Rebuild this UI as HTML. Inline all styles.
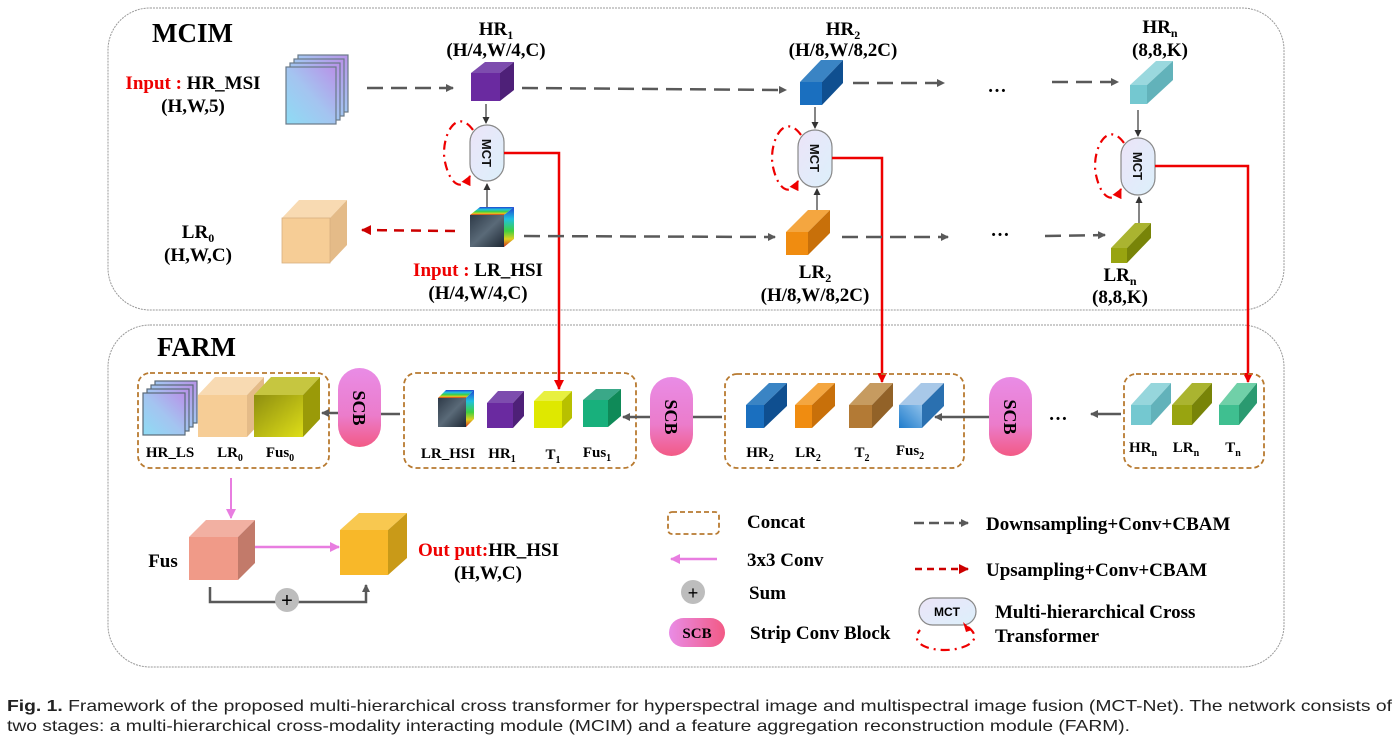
<!DOCTYPE html>
<html><head><meta charset="utf-8"><style>html,body{margin:0;padding:0;background:#fff}svg{display:block}</style></head>
<body>
<svg width="1398" height="753" viewBox="0 0 1398 753" xmlns="http://www.w3.org/2000/svg" font-family="Liberation Serif, serif" font-weight="bold">
<defs>
<marker id="ag" markerWidth="8" markerHeight="8" refX="7" refY="4" orient="auto" markerUnits="userSpaceOnUse"><path d="M0,0 L8,4 L0,8 z" fill="#595959"/></marker>
<marker id="ar" markerWidth="10" markerHeight="10" refX="9" refY="5" orient="auto" markerUnits="userSpaceOnUse"><path d="M0,0 L10,5 L0,10 z" fill="#e00"/></marker>
<marker id="ard" markerWidth="10" markerHeight="10" refX="9" refY="5" orient="auto" markerUnits="userSpaceOnUse"><path d="M0,0 L10,5 L0,10 z" fill="#c00"/></marker>
<marker id="ap" markerWidth="10" markerHeight="10" refX="9" refY="5" orient="auto" markerUnits="userSpaceOnUse"><path d="M0,0 L10,5 L0,10 z" fill="#e87de0"/></marker>
<marker id="ak" markerWidth="7" markerHeight="7" refX="6" refY="3.5" orient="auto" markerUnits="userSpaceOnUse"><path d="M0,0 L7,3.5 L0,7 z" fill="#333"/></marker>
<linearGradient id="scb" x1="0" y1="0" x2="0" y2="1"><stop offset="0" stop-color="#e98ce6"/><stop offset="0.6" stop-color="#eb7ccb"/><stop offset="1" stop-color="#f25a85"/></linearGradient>
<linearGradient id="scbh" x1="0" y1="0" x2="1" y2="0"><stop offset="0" stop-color="#e98ce6"/><stop offset="1" stop-color="#f25a85"/></linearGradient>
<linearGradient id="mct" x1="0" y1="0" x2="1" y2="1"><stop offset="0" stop-color="#ece4f8"/><stop offset="1" stop-color="#dcf0fb"/></linearGradient>
<linearGradient id="msi" x1="0" y1="1" x2="1" y2="0"><stop offset="0" stop-color="#8edcf4"/><stop offset="0.5" stop-color="#a4c4f0"/><stop offset="1" stop-color="#b892e8"/></linearGradient>
<linearGradient id="fus0" x1="0" y1="0" x2="1" y2="1"><stop offset="0" stop-color="#8e8e10"/><stop offset="1" stop-color="#dede18"/></linearGradient>
<linearGradient id="fus2" x1="0" y1="1" x2="1" y2="0"><stop offset="0" stop-color="#1f7ccc"/><stop offset="1" stop-color="#8ec0ea"/></linearGradient>
<linearGradient id="img" x1="0" y1="0" x2="1" y2="1"><stop offset="0" stop-color="#2e3a48"/><stop offset="0.5" stop-color="#5a6a78"/><stop offset="1" stop-color="#1e2834"/></linearGradient>
<linearGradient id="imgs" x1="0" y1="0" x2="0" y2="1"><stop offset="0" stop-color="#2040d0"/><stop offset="0.3" stop-color="#20c0e0"/><stop offset="0.6" stop-color="#40d040"/><stop offset="0.8" stop-color="#e0d020"/><stop offset="1" stop-color="#d03020"/></linearGradient>
</defs>

<rect x="108" y="8" width="1176" height="302" rx="42" fill="none" stroke="#999" stroke-width="1" stroke-dasharray="2 1"/>
<rect x="108" y="325" width="1176" height="342" rx="42" fill="none" stroke="#999" stroke-width="1" stroke-dasharray="2 1"/>
<text x="152" y="42" font-size="27">MCIM</text>
<text x="157" y="356" font-size="27">FARM</text>

<text x="193" y="89" font-size="19" text-anchor="middle"><tspan fill="#e00">Input : </tspan>HR_MSI</text>
<text x="193" y="112" font-size="19" text-anchor="middle">(H,W,5)</text>
<g stroke="#6a7a88" stroke-width="1.2" fill="url(#msi)">
<rect x="298" y="55" width="50" height="57"/><rect x="294" y="59" width="50" height="57"/><rect x="290" y="63" width="50" height="57"/><rect x="286" y="67" width="50" height="57"/>
</g>
<line x1="367" y1="88" x2="453" y2="88" stroke="#595959" stroke-width="2.5" stroke-dasharray="16 8" marker-end="url(#ag)"/>
<text x="496" y="35" font-size="19" text-anchor="middle">HR<tspan font-size="12" dy="4">1</tspan></text>
<text x="496" y="56" font-size="19" text-anchor="middle">(H/4,W/4,C)</text>
<polygon points="471,73 485,62 514,62 500,73" fill="#7d4cae"/><polygon points="500,73 514,62 514,90 500,101" fill="#4e2078"/><rect x="471" y="73" width="29" height="28" fill="#6a2aa0"/>
<line x1="522" y1="88" x2="786" y2="90" stroke="#595959" stroke-width="2.5" stroke-dasharray="16 8" marker-end="url(#ag)"/>
<text x="843" y="35" font-size="19" text-anchor="middle">HR<tspan font-size="12" dy="4">2</tspan></text>
<text x="843" y="56" font-size="19" text-anchor="middle">(H/8,W/8,2C)</text>
<polygon points="800,82 821,60 843,60 822,82" fill="#3a84c4"/><polygon points="822,82 843,60 843,83 822,105" fill="#0f4f90"/><rect x="800" y="82" width="22" height="23" fill="#1a6fbf"/>
<line x1="853" y1="83" x2="944" y2="83" stroke="#595959" stroke-width="2.5" stroke-dasharray="16 8" marker-end="url(#ag)"/>
<text x="997" y="92" font-size="19" text-anchor="middle">…</text>
<line x1="1052" y1="82" x2="1118" y2="82" stroke="#595959" stroke-width="2.5" stroke-dasharray="16 8" marker-end="url(#ag)"/>
<text x="1160" y="33" font-size="19" text-anchor="middle">HR<tspan font-size="12" dy="4">n</tspan></text>
<text x="1160" y="56" font-size="19" text-anchor="middle">(8,8,K)</text>
<polygon points="1130,85 1156,61 1173,61 1147,85" fill="#9ad8de"/><polygon points="1147,85 1173,61 1173,80 1147,104" fill="#62b2ba"/><rect x="1130" y="85" width="17" height="19" fill="#74c8d0"/>

<g stroke="#333" stroke-width="1.2">
<line x1="486" y1="104" x2="486" y2="123" marker-end="url(#ak)"/><line x1="487" y1="207" x2="487" y2="184" marker-end="url(#ak)"/>
<line x1="815" y1="107" x2="815" y2="128" marker-end="url(#ak)"/><line x1="817" y1="210" x2="817" y2="189" marker-end="url(#ak)"/>
<line x1="1138" y1="110" x2="1138" y2="136" marker-end="url(#ak)"/><line x1="1139" y1="225" x2="1139" y2="197" marker-end="url(#ak)"/>
</g>
<g stroke="#888" stroke-width="1.2" fill="url(#mct)">
<rect x="470" y="125" width="34" height="56" rx="17"/>
<rect x="798" y="130" width="34" height="57" rx="17"/>
<rect x="1121" y="138" width="34" height="57" rx="17"/>
</g>
<g font-family="Liberation Sans, sans-serif" font-size="13" fill="#111" text-anchor="middle">
<text transform="translate(482,153) rotate(90)">MCT</text>
<text transform="translate(810,158) rotate(90)">MCT</text>
<text transform="translate(1133,166) rotate(90)">MCT</text>
</g>
<g fill="none" stroke="#e00" stroke-width="2.2" stroke-dasharray="9 5 2 5">
<path d="M473,130 C455,105 440,140 445,162 C450,185 462,192 470,176" marker-end="url(#ar)"/>
<path d="M801,135 C783,110 768,145 773,167 C778,190 790,197 798,181" marker-end="url(#ar)"/>
<path d="M1124,143 C1106,118 1091,153 1096,175 C1101,198 1113,205 1121,189" marker-end="url(#ar)"/>
</g>
<g fill="none" stroke="#e00" stroke-width="2.5">
<path d="M504,153 H559 V389" marker-end="url(#ar)"/>
<path d="M832,158 H882 V382" marker-end="url(#ar)"/>
<path d="M1155,166 H1248 V382" marker-end="url(#ar)"/>
</g>

<text x="198" y="238" font-size="19" text-anchor="middle">LR<tspan font-size="12" dy="4">0</tspan></text>
<text x="198" y="261" font-size="19" text-anchor="middle">(H,W,C)</text>
<polygon points="282,218 299,200 347,200 330,218" fill="#f8dab2"/><polygon points="330,218 347,200 347,245 330,263" fill="#e4bb88"/><rect x="282" y="218" width="48" height="45" fill="#f6cd96" stroke="#d8b080" stroke-width="0.8"/>
<line x1="455" y1="231" x2="362" y2="230" stroke="#c00" stroke-width="2.5" stroke-dasharray="10 7" marker-end="url(#ard)"/>
<polygon points="470,215 480,207 514,207 504,215" fill="url(#imgs)"/><polygon points="504,215 514,207 514,239 504,247" fill="url(#imgs)"/><rect x="470" y="215" width="34" height="32" fill="url(#img)"/>
<line x1="524" y1="236" x2="775" y2="237" stroke="#595959" stroke-width="2.5" stroke-dasharray="16 8" marker-end="url(#ag)"/>
<text x="478" y="276" font-size="19" text-anchor="middle"><tspan fill="#e00">Input : </tspan>LR_HSI</text>
<text x="478" y="299" font-size="19" text-anchor="middle">(H/4,W/4,C)</text>
<polygon points="786,232 808,210 830,210 808,232" fill="#f4a640"/><polygon points="808,232 830,210 830,233 808,255" fill="#c8700a"/><rect x="786" y="232" width="22" height="23" fill="#f08c10"/>
<text x="815" y="278" font-size="19" text-anchor="middle">LR<tspan font-size="12" dy="4">2</tspan></text>
<text x="815" y="301" font-size="19" text-anchor="middle">(H/8,W/8,2C)</text>
<line x1="842" y1="237" x2="948" y2="237" stroke="#595959" stroke-width="2.5" stroke-dasharray="16 8" marker-end="url(#ag)"/>
<text x="1000" y="236" font-size="19" text-anchor="middle">…</text>
<line x1="1045" y1="236" x2="1105" y2="235" stroke="#595959" stroke-width="2.5" stroke-dasharray="16 8" marker-end="url(#ag)"/>
<polygon points="1111,248 1135,223 1151,223 1127,248" fill="#aab430"/><polygon points="1127,248 1151,223 1151,238 1127,263" fill="#788408"/><rect x="1111" y="248" width="16" height="15" fill="#98a410"/>
<text x="1120" y="281" font-size="19" text-anchor="middle">LR<tspan font-size="12" dy="4">n</tspan></text>
<text x="1120" y="303" font-size="19" text-anchor="middle">(8,8,K)</text>

<g fill="none" stroke="#b87a30" stroke-width="1.8" stroke-dasharray="5 3">
<rect x="138" y="373" width="191" height="95" rx="12"/>
<rect x="404" y="373" width="232" height="95" rx="12"/>
<rect x="725" y="374" width="239" height="94" rx="12"/>
<rect x="1124" y="374" width="140" height="94" rx="12"/>
</g>
<g stroke="#5a6a78" stroke-width="1.2" fill="url(#msi)">
<rect x="155" y="381" width="42" height="42"/><rect x="151" y="385" width="42" height="42"/><rect x="147" y="389" width="42" height="42"/><rect x="143" y="393" width="42" height="42"/>
</g>
<polygon points="198,395 215,377 264,377 247,395" fill="#f8dab2"/><polygon points="247,395 264,377 264,419 247,437" fill="#e4bb88"/><rect x="198" y="395" width="49" height="42" fill="#f6cd96"/>
<polygon points="254,395 271,377 320,377 303,395" fill="#c6c640"/><polygon points="303,395 320,377 320,419 303,437" fill="#9a9a08"/><rect x="254" y="395" width="49" height="42" fill="url(#fus0)"/>
<g font-size="15" text-anchor="middle">
<text x="170" y="457">HR_LS</text>
<text x="230" y="457">LR<tspan font-size="10" dy="4">0</tspan></text>
<text x="280" y="457">Fus<tspan font-size="10" dy="4">0</tspan></text>
</g>
<polygon points="438,398 446,390 474,390 466,398" fill="url(#imgs)"/><polygon points="466,398 474,390 474,419 466,427" fill="url(#imgs)"/><rect x="438" y="398" width="28" height="29" fill="url(#img)"/>
<polygon points="487,403 498,391 524,391 513,403" fill="#7d4cae"/><polygon points="513,403 524,391 524,416 513,428" fill="#4e2078"/><rect x="487" y="403" width="26" height="25" fill="#6a2aa0"/>
<polygon points="534,401 544,391 572,391 562,401" fill="#e8f040"/><polygon points="562,401 572,391 572,418 562,428" fill="#b8c000"/><rect x="534" y="401" width="28" height="27" fill="#dfe800"/>
<polygon points="583,400 596,389 621,389 608,400" fill="#3aa888"/><polygon points="608,400 621,389 621,416 608,427" fill="#0f8a58"/><rect x="583" y="400" width="25" height="27" fill="#18b07c"/>
<g font-size="15" text-anchor="middle">
<text x="448" y="458">LR_HSI</text>
<text x="502" y="458">HR<tspan font-size="10" dy="4">1</tspan></text>
<text x="553" y="459">T<tspan font-size="10" dy="4">1</tspan></text>
<text x="597" y="457">Fus<tspan font-size="10" dy="4">1</tspan></text>
</g>
<polygon points="746,405 769,383 787,383 764,405" fill="#3a84c4"/><polygon points="764,405 787,383 787,406 764,428" fill="#0f4f90"/><rect x="746" y="405" width="18" height="23" fill="#1a6fbf"/>
<polygon points="795,405 818,383 835,383 812,405" fill="#f4a640"/><polygon points="812,405 835,383 835,406 812,428" fill="#c8700a"/><rect x="795" y="405" width="17" height="23" fill="#f08c10"/>
<polygon points="849,405 870,383 893,383 872,405" fill="#c69b60"/><polygon points="872,405 893,383 893,406 872,428" fill="#926228"/><rect x="849" y="405" width="23" height="23" fill="#b37a35"/>
<polygon points="899,405 921,383 944,383 922,405" fill="#a8c8e8"/><polygon points="922,405 944,383 944,406 922,428" fill="#2a70b0"/><rect x="899" y="405" width="23" height="23" fill="url(#fus2)"/>
<g font-size="15" text-anchor="middle">
<text x="760" y="457">HR<tspan font-size="10" dy="4">2</tspan></text>
<text x="808" y="457">LR<tspan font-size="10" dy="4">2</tspan></text>
<text x="862" y="457">T<tspan font-size="10" dy="4">2</tspan></text>
<text x="910" y="455">Fus<tspan font-size="10" dy="4">2</tspan></text>
</g>
<polygon points="1131,405 1151,383 1171,383 1151,405" fill="#96d6dc"/><polygon points="1151,405 1171,383 1171,403 1151,425" fill="#62b2ba"/><rect x="1131" y="405" width="20" height="20" fill="#74c8d0"/>
<polygon points="1172,405 1192,383 1212,383 1192,405" fill="#aab430"/><polygon points="1192,405 1212,383 1212,403 1192,425" fill="#788408"/><rect x="1172" y="405" width="20" height="20" fill="#98a410"/>
<polygon points="1219,405 1237,383 1257,383 1239,405" fill="#70d0a8"/><polygon points="1239,405 1257,383 1257,403 1239,425" fill="#2a9a70"/><rect x="1219" y="405" width="20" height="20" fill="#3fbf90"/>
<g font-size="15" text-anchor="middle">
<text x="1143" y="452">HR<tspan font-size="10" dy="4">n</tspan></text>
<text x="1186" y="452">LR<tspan font-size="10" dy="4">n</tspan></text>
<text x="1233" y="452">T<tspan font-size="10" dy="4">n</tspan></text>
</g>
<rect x="338" y="368" width="43" height="79" rx="21.5" fill="url(#scb)"/>
<rect x="650" y="377" width="43" height="79" rx="21.5" fill="url(#scb)"/>
<rect x="989" y="377" width="43" height="79" rx="21.5" fill="url(#scb)"/>
<g font-size="18" text-anchor="middle">
<text transform="translate(353,408) rotate(90)">SCB</text>
<text transform="translate(665,417) rotate(90)">SCB</text>
<text transform="translate(1004,417) rotate(90)">SCB</text>
</g>
<g stroke="#595959" stroke-width="2.5">
<line x1="400" y1="414" x2="381" y2="414"/>
<line x1="338" y1="413" x2="322" y2="413" marker-end="url(#ag)"/>
<line x1="722" y1="417" x2="693" y2="417"/>
<line x1="650" y1="417" x2="623" y2="417" marker-end="url(#ag)"/>
<line x1="989" y1="417" x2="935" y2="417" marker-end="url(#ag)"/>
<line x1="1121" y1="414" x2="1091" y2="414" marker-end="url(#ag)"/>
</g>
<text x="1058" y="420" font-size="19" text-anchor="middle">…</text>

<line x1="231" y1="478" x2="231" y2="518" stroke="#e87de0" stroke-width="2" marker-end="url(#ap)"/>
<polygon points="189,537 206,520 255,520 238,537" fill="#f2b0a2"/><polygon points="238,537 255,520 255,563 238,580" fill="#c27a6a"/><rect x="189" y="537" width="49" height="43" fill="#f09a88"/>
<text x="163" y="567" font-size="19" text-anchor="middle">Fus</text>
<line x1="255" y1="547" x2="339" y2="547" stroke="#e87de0" stroke-width="2.5" marker-end="url(#ap)"/>
<polygon points="340,530 359,513 407,513 388,530" fill="#f8c850"/><polygon points="388,530 407,513 407,558 388,575" fill="#c99a18"/><rect x="340" y="530" width="48" height="45" fill="#f8b829"/>
<text x="418" y="556" font-size="19"><tspan fill="#e00">Out put:</tspan>HR_HSI</text>
<text x="488" y="579" font-size="19" text-anchor="middle">(H,W,C)</text>
<path d="M210,587 V602 H366 V585" fill="none" stroke="#595959" stroke-width="2.5" marker-end="url(#ag)"/>
<circle cx="287" cy="600" r="12" fill="#bdbdbd"/>
<text x="287" y="607" font-family="Liberation Sans, sans-serif" font-size="20" font-weight="normal" text-anchor="middle">+</text>

<rect x="668" y="512" width="51" height="22" rx="4" fill="none" stroke="#b87a30" stroke-width="1.8" stroke-dasharray="5 3"/>
<text x="747" y="528" font-size="19">Concat</text>
<line x1="717" y1="559" x2="671" y2="559" stroke="#e87de0" stroke-width="2.5" marker-end="url(#ap)"/>
<text x="747" y="566" font-size="19">3x3 Conv</text>
<circle cx="693" cy="592" r="12" fill="#bdbdbd"/>
<text x="693" y="599" font-family="Liberation Sans, sans-serif" font-size="18" font-weight="normal" text-anchor="middle">+</text>
<text x="749" y="599" font-size="19">Sum</text>
<rect x="669" y="618" width="56" height="29" rx="14.5" fill="url(#scbh)"/>
<text x="697" y="638" font-size="15" text-anchor="middle">SCB</text>
<text x="750" y="639" font-size="19">Strip Conv Block</text>
<line x1="914" y1="523" x2="968" y2="523" stroke="#595959" stroke-width="2.5" stroke-dasharray="10 5" marker-end="url(#ag)"/>
<text x="986" y="530" font-size="19">Downsampling+Conv+CBAM</text>
<line x1="915" y1="569" x2="968" y2="569" stroke="#c00" stroke-width="2.5" stroke-dasharray="7 5" marker-end="url(#ard)"/>
<text x="986" y="576" font-size="19">Upsampling+Conv+CBAM</text>
<rect x="919" y="598" width="57" height="27" rx="13.5" fill="url(#mct)" stroke="#888" stroke-width="1.2"/>
<text x="947" y="616" font-family="Liberation Sans, sans-serif" font-size="12" text-anchor="middle">MCT</text>
<path d="M968,627 C985,640 965,650 945,650 C925,650 910,642 920,630" fill="none" stroke="#e00" stroke-width="2.2" stroke-dasharray="9 5 2 5"/>
<path d="M963,622 L972,630 L966,632 z" fill="#e00"/>
<text x="995" y="618" font-size="19">Multi-hierarchical Cross</text>
<text x="995" y="642" font-size="19">Transformer</text>

<g font-family="Liberation Sans, sans-serif" font-weight="normal" font-size="16" fill="#222">
<text x="7" y="711" textLength="1385" lengthAdjust="spacingAndGlyphs"><tspan font-weight="bold">Fig. 1.</tspan> Framework of the proposed multi-hierarchical cross transformer for hyperspectral image and multispectral image fusion (MCT-Net). The network consists of</text>
<text x="7" y="731" textLength="1123" lengthAdjust="spacingAndGlyphs">two stages: a multi-hierarchical cross-modality interacting module (MCIM) and a feature aggregation reconstruction module (FARM).</text>
</g>
</svg>
</body></html>
